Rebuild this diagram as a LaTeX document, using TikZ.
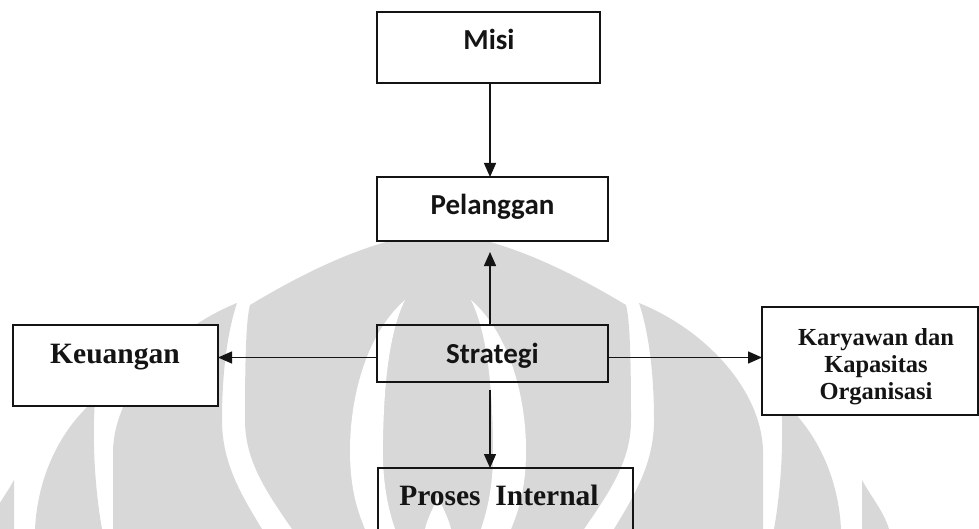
\documentclass[tikz,border=0pt]{standalone}
\usepackage{fontspec}
\newfontfamily\calfont{Carlito}
\newfontfamily\tnrfont{Liberation Serif}
\usetikzlibrary{arrows.meta}
\definecolor{wm}{RGB}{216,216,216}
\definecolor{ink}{RGB}{20,20,20}
\tikzset{
  boxw/.style={draw=ink, line width=1.8pt, fill=white, rectangle, inner sep=0pt, outer sep=0pt},
  boxt/.style={draw=ink, line width=1.8pt, rectangle, inner sep=0pt, outer sep=0pt},
  arr/.style={draw=ink, line width=1.4pt, -{Triangle[length=14pt,width=12pt]}},
  calt/.style={font=\calfont\bfseries\fontsize{29}{33}\selectfont, text=ink, anchor=base, inner sep=0pt},
  tnrt/.style={font=\tnrfont\bfseries\fontsize{29.5}{33}\selectfont, text=ink, anchor=base, inner sep=0pt},
  tnrs/.style={font=\tnrfont\bfseries\fontsize{24.5}{27}\selectfont, text=ink, anchor=base, inner sep=0pt}
}
\begin{document}
\begin{tikzpicture}[x=1pt,y=-1pt]
\useasboundingbox (0,0) rectangle (979,529);
\clip (0,0) rectangle (979,529);
% watermark
\fill[wm] (14,480) .. controls (6,495) and (-8,512) .. (-13,529) -- (14,529) -- cycle;
\fill[wm] (862,480) .. controls (870,495) and (884,512) .. (889,529) -- (862,529) -- cycle;
\fill[wm] (95,400) .. controls (65,425) and (38,470) .. (35,529) -- (102,529) .. controls (95,490) and (92,440) .. (95,400) -- cycle;
\fill[wm] (781,400) .. controls (811,425) and (838,470) .. (841,529) -- (774,529) .. controls (781,490) and (784,440) .. (781,400) -- cycle;
\fill[wm] (237,303) .. controls (170,330) and (115,390) .. (113,450) -- (113,529) -- (262,529) .. controls (238,490) and (222,460) .. (222,420) .. controls (222,370) and (228,330) .. (237,303) -- cycle;
\fill[wm] (639,303) .. controls (706,330) and (761,390) .. (763,450) -- (763,529) -- (614,529) .. controls (638,490) and (654,460) .. (654,420) .. controls (654,370) and (648,330) .. (639,303) -- cycle;
\fill[wm] (292,529) .. controls (265,490) and (245,460) .. (245,420) .. controls (245,360) and (246,320) .. (250,305) .. controls (300,275) and (370,238) .. (438,232) .. controls (506,238) and (576,275) .. (626,305) .. controls (630,320) and (631,360) .. (631,420) .. controls (631,460) and (611,490) .. (584,529) -- cycle;
\fill[white] (405,300) .. controls (365,335) and (350,400) .. (350,450) .. controls (350,490) and (358,512) .. (365,529) -- (395,529) .. controls (385,500) and (382,470) .. (383,440) .. controls (384,380) and (390,330) .. (405,300) -- cycle;
\fill[white] (471,300) .. controls (511,335) and (526,400) .. (526,450) .. controls (526,490) and (518,512) .. (511,529) -- (481,529) .. controls (491,500) and (494,470) .. (493,440) .. controls (492,380) and (486,330) .. (471,300) -- cycle;
\fill[white] (438,497) .. controls (432,510) and (427,520) .. (425,529) -- (451,529) .. controls (449,520) and (444,510) .. (438,497) -- cycle;
% boxes
\node[boxw, minimum width=223pt, minimum height=71pt] (misi) at (488.5,47.5) {};
\node[boxw, minimum width=231pt, minimum height=64pt] (pel) at (492.5,209) {};
\node[boxt, minimum width=231pt, minimum height=57pt] (strat) at (492.5,353.5) {};
\node[boxw, minimum width=205pt, minimum height=81pt] (keu) at (115.5,365.5) {};
\node[boxw, minimum width=216pt, minimum height=108pt] (kar) at (870,361) {};
\node[boxt, minimum width=255pt, minimum height=90pt] (pro) at (505.5,513) {};
% texts
\node[calt] (tmisi) at (489,50) {Misi};
\node[calt] (tpel) at (492.5,215) {Pelanggan};
\node[calt] (tstrat) at (492.5,363) {Strategi};
\node[tnrt] (tkeu) at (115,363) {Keuangan};
\node[tnrs] (tkar1) at (876,345) {Karyawan dan};
\node[tnrs] (tkar2) at (876,372) {Kapasitas};
\node[tnrs] (tkar3) at (876,399) {Organisasi};
\node[tnrt] (tpro) at (499,505) {Proses\ \ Internal};
% connectors
\coordinate (ax) at (490,0);
\coordinate (ay) at (0,357.5);
\draw[arr] (misi.south -| ax) -- (pel.north -| ax);
\draw[arr, shorten >=11pt] (strat.north -| ax) -- (pel.south -| ax);
\draw[arr, shorten <=8pt] (strat.south -| ax) -- (pro.north -| ax);
\draw[arr] (strat.west |- ay) -- (keu.east |- ay);
\draw[arr] (strat.east |- ay) -- (kar.west |- ay);
\end{tikzpicture}
\end{document}
